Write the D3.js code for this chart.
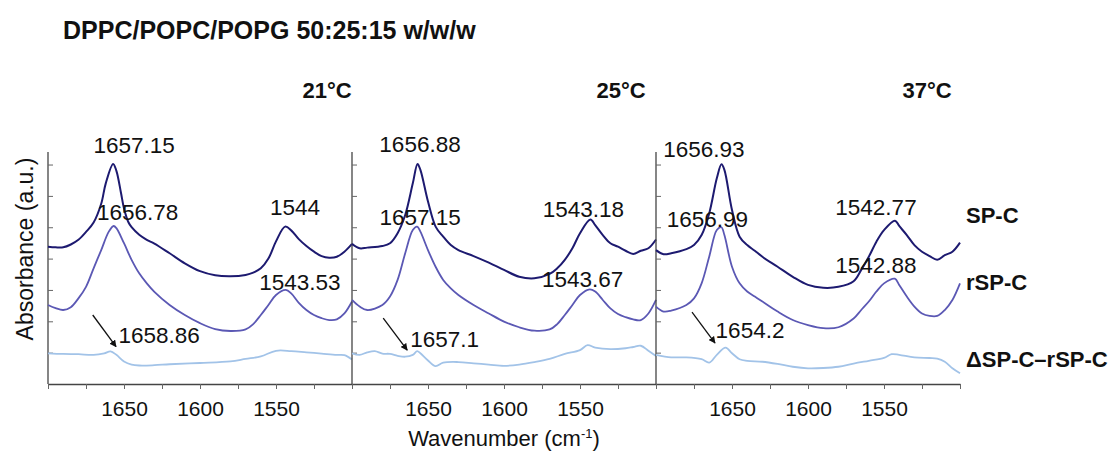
<!DOCTYPE html>
<html>
<head>
<meta charset="utf-8">
<script src="https://cdn.jsdelivr.net/npm/d3@7/dist/d3.min.js"></script>
<style>
  html, body { margin: 0; padding: 0; background: #ffffff; }
  svg { display: block; font-family: "Liberation Sans", Arial, sans-serif; }
</style>
</head>
<body>
<svg id="chart" width="1120" height="456"></svg>
<script>
// ---- data -------------------------------------------------------------
const title = "DPPC/POPC/POPG 50:25:15 w/w/w";
const temperatures = ["21°C", "25°C", "37°C"];
const seriesNames = ["SP-C", "rSP-C", "ΔSP-C–rSP-C"];
const xTicks = [1700, 1675, 1650, 1625, 1600, 1575, 1550, 1525, 1500];
const xTickLabels = [1650, 1600, 1550];
const yTicks = [1, 2, 3, 4, 5, 6, 7];

// [wavenumber (cm-1), absorbance (a.u., offset)]
const spc21 = [[1700,4.38],[1695,4.36],[1690,4.36],[1685,4.45],[1680,4.60],[1675,4.85],[1670,5.15],[1665,5.75],[1662,6.40],[1657.15,7.02],[1655,6.80],[1652,6.10],[1650,5.60],[1647,5.15],[1645,5.00],[1640,4.76],[1635,4.60],[1630,4.48],[1620,4.17],[1610,3.85],[1600,3.60],[1590,3.47],[1580,3.44],[1570,3.48],[1565,3.55],[1560,3.69],[1555,4.00],[1550,4.55],[1544,5.02],[1540,4.90],[1535,4.62],[1530,4.40],[1525,4.22],[1520,4.08],[1515,4.03],[1510,4.06],[1505,4.22],[1500,4.47]];
const rspc21 = [[1700,2.52],[1695,2.42],[1690,2.36],[1685,2.45],[1680,2.73],[1675,3.10],[1670,3.69],[1665,4.27],[1660,4.86],[1656.78,5.04],[1655,4.97],[1650,4.49],[1645,3.96],[1640,3.53],[1635,3.21],[1630,2.94],[1620,2.52],[1610,2.20],[1600,1.94],[1590,1.75],[1580,1.69],[1570,1.74],[1565,1.91],[1560,2.20],[1555,2.52],[1550,2.84],[1543.53,3.00],[1540,2.89],[1535,2.59],[1530,2.36],[1525,2.20],[1520,2.10],[1515,2.04],[1510,2.06],[1505,2.25],[1500,2.63]];
const dspc21 = [[1700,0.98],[1690,0.96],[1680,0.95],[1670,0.93],[1663,0.98],[1658.86,1.04],[1655,0.93],[1650,0.72],[1645,0.62],[1640,0.59],[1630,0.60],[1620,0.63],[1600,0.67],[1580,0.72],[1570,0.80],[1560,0.88],[1550,1.06],[1540,1.05],[1530,1.01],[1520,0.97],[1510,0.93],[1505,0.92],[1500,0.78]];

const spc25 = [[1700,4.47],[1695,4.33],[1690,4.35],[1680,4.40],[1675,4.49],[1670,4.81],[1665,5.39],[1660,6.40],[1656.88,7.02],[1655,6.83],[1650,5.82],[1645,5.02],[1640,4.70],[1635,4.43],[1630,4.27],[1620,4.08],[1610,3.87],[1600,3.64],[1590,3.42],[1580,3.37],[1570,3.51],[1565,3.69],[1560,3.96],[1555,4.33],[1550,4.81],[1543.18,5.25],[1540,5.07],[1535,4.75],[1530,4.49],[1525,4.38],[1520,4.25],[1515,4.15],[1510,4.25],[1505,4.33],[1500,4.61]];
const rspc25 = [[1700,2.68],[1695,2.47],[1690,2.36],[1680,2.52],[1675,2.79],[1670,3.32],[1665,4.17],[1660,4.91],[1657.15,5.02],[1655,4.86],[1650,4.27],[1645,3.74],[1640,3.32],[1635,3.05],[1630,2.84],[1620,2.52],[1610,2.25],[1600,1.99],[1590,1.81],[1580,1.70],[1570,1.74],[1565,1.91],[1560,2.20],[1555,2.52],[1550,2.84],[1543.67,3.02],[1540,2.95],[1535,2.68],[1530,2.41],[1525,2.23],[1520,2.13],[1515,2.06],[1510,2.04],[1505,2.25],[1500,2.68]];
const dspc25 = [[1700,0.98],[1695,0.93],[1690,1.01],[1685,1.05],[1680,0.97],[1675,0.96],[1670,0.90],[1665,0.87],[1660,0.93],[1657.1,1.05],[1655,0.98],[1650,0.75],[1645,0.57],[1640,0.68],[1630,0.70],[1620,0.66],[1610,0.62],[1600,0.58],[1590,0.62],[1580,0.70],[1570,0.80],[1560,0.96],[1550,1.08],[1545,1.24],[1540,1.16],[1530,1.11],[1520,1.14],[1515,1.18],[1510,1.22],[1505,1.06],[1500,0.89]];

const spc37 = [[1700,4.27],[1695,4.14],[1690,4.17],[1680,4.30],[1675,4.43],[1670,4.75],[1665,5.44],[1660,6.56],[1656.93,7.01],[1655,6.83],[1650,5.55],[1645,4.70],[1640,4.43],[1635,4.25],[1630,4.06],[1620,3.74],[1610,3.42],[1600,3.16],[1590,3.07],[1580,3.10],[1570,3.28],[1565,3.64],[1560,4.06],[1555,4.54],[1550,4.91],[1542.77,5.21],[1540,5.04],[1535,4.75],[1530,4.43],[1525,4.22],[1520,4.08],[1515,3.96],[1510,4.11],[1505,4.22],[1500,4.51]];
const rspc37 = [[1700,2.47],[1695,2.31],[1690,2.34],[1680,2.52],[1675,2.73],[1670,3.21],[1665,4.06],[1660,4.91],[1656.99,5.00],[1655,4.75],[1650,3.74],[1645,3.21],[1640,2.95],[1635,2.79],[1630,2.63],[1620,2.31],[1610,2.04],[1600,1.88],[1590,1.78],[1580,1.81],[1570,2.09],[1565,2.36],[1560,2.63],[1555,2.95],[1550,3.21],[1542.88,3.36],[1540,3.16],[1535,2.79],[1530,2.47],[1525,2.25],[1520,2.17],[1515,2.17],[1510,2.36],[1505,2.68],[1500,3.21]];
const dspc37 = [[1700,0.93],[1690,0.85],[1680,0.85],[1670,0.79],[1665,0.68],[1660,0.93],[1654.2,1.16],[1650,0.98],[1645,0.79],[1640,0.74],[1630,0.71],[1620,0.64],[1610,0.55],[1600,0.50],[1590,0.51],[1580,0.55],[1570,0.65],[1560,0.74],[1550,0.83],[1545,0.95],[1540,0.93],[1530,0.85],[1520,0.83],[1515,0.81],[1510,0.71],[1505,0.50],[1500,0.34]];

// band maxima: SP-C amide I, rSP-C amide I, SP-C amide II, rSP-C amide II, difference
const peaks21 = [1657.15, 1656.78, 1544, 1543.53, 1658.86];
const peaks25 = [1656.88, 1657.15, 1543.18, 1543.67, 1657.1];
const peaks37 = [1656.93, 1656.99, 1542.77, 1542.88, 1654.2];
const peakSeries = [0, 1, 0, 1, 2];

// ---- layout -------------------------------------------------------------
const panelLeft = [48, 352, 656];
const panelWidth = 304;
const plotTop = 152, plotBottom = 384;
const colors = ["#1d1a70", "#5b58b4", "#a2c3e8"];
const strokeW = [2, 1.8, 1.8];
const tempX = [327, 621, 927];
const legendY = [223, 290, 367];
// label offsets from each maximum [dx, dy, anchor]
const labelOffsets = [
  [[21,-11,"middle"],[24,-6,"middle"],[10,-12,"middle"],[14,0,"middle"],[8,-8,"start"]],
  [[2.5,-12,"middle"],[3,-2,"middle"],[-7,-2,"middle"],[-7,-2,"middle"],[-7,-4,"start"]],
  [[-17.5,-7,"middle"],[-14,0,"middle"],[-19,-6,"middle"],[-19,-6,"middle"],[-10,-10,"start"]]
];
const arrowOffsets = [[-17.8,-36.4,5.5,-4.7],[-34,-33,-10,-1],[-33.6,-35.6,-10.6,-4.6]];

const panels = [
  {temp: temperatures[0], series: [spc21, rspc21, dspc21], peaks: peaks21},
  {temp: temperatures[1], series: [spc25, rspc25, dspc25], peaks: peaks25},
  {temp: temperatures[2], series: [spc37, rspc37, dspc37], peaks: peaks37}
];

const svg = d3.select("#chart");
const y = d3.scaleLinear().domain([0, 7.4]).range([plotBottom, plotTop]);

svg.append("defs").append("marker")
  .attr("id", "arrowhead")
  .attr("viewBox", "0 0 10 10")
  .attr("refX", 9).attr("refY", 5)
  .attr("markerWidth", 7).attr("markerHeight", 7)
  .attr("markerUnits", "userSpaceOnUse")
  .attr("orient", "auto")
  .append("path").attr("d", "M0,0 L10,5 L0,10 z").attr("fill", "#111");

// title
svg.append("text")
  .attr("x", 63).attr("y", 39)
  .attr("font-size", 25).attr("font-weight", "bold").attr("fill", "#111")
  .text(title);

panels.forEach((p, i) => {
  const x = d3.scaleLinear().domain([1700, 1500]).range([panelLeft[i], panelLeft[i] + panelWidth]);
  const g = svg.append("g");

  // temperature header
  g.append("text")
    .attr("x", tempX[i]).attr("y", 98)
    .attr("text-anchor", "middle")
    .attr("font-size", 22).attr("font-weight", "bold").attr("fill", "#111")
    .text(p.temp);

  // axes
  const xAxis = d3.axisBottom(x).tickValues(xTicks).tickSize(5).tickSizeOuter(0)
    .tickFormat(d => xTickLabels.includes(d) ? d : "");
  const gx = g.append("g").attr("transform", `translate(0,${plotBottom})`).call(xAxis);
  gx.select(".domain").attr("stroke", "#444").attr("stroke-width", 1.3);
  gx.selectAll(".tick line").attr("stroke", "#666");
  gx.selectAll(".tick text").attr("font-size", 21).attr("font-family", "Liberation Sans, Arial, sans-serif")
    .attr("fill", "#111").attr("dy", "1.15em");

  const yAxis = d3.axisRight(y).tickValues(yTicks).tickSize(5).tickSizeOuter(0).tickFormat("");
  const gy = g.append("g").attr("transform", `translate(${panelLeft[i]},0)`).call(yAxis);
  gy.select(".domain").attr("stroke", "#444").attr("stroke-width", 1.3)
    .attr("d", `M0,${plotTop}V${plotBottom}`);
  gy.selectAll(".tick line").attr("stroke", "#666");

  // spectra
  const line = d3.line().x(d => x(d[0])).y(d => y(d[1])).curve(d3.curveCatmullRom.alpha(0.5));
  p.series.forEach((s, k) => {
    g.append("path").datum(s)
      .attr("fill", "none").attr("stroke", colors[k]).attr("stroke-width", strokeW[k])
      .attr("stroke-linejoin", "round")
      .attr("d", line);
  });

  // maxima labels
  p.peaks.forEach((w, j) => {
    const s = p.series[peakSeries[j]];
    const pt = s.find(d => d[0] === w);
    const px = x(pt[0]), py = y(pt[1]);
    const off = labelOffsets[i][j];
    g.append("text")
      .attr("x", px + off[0]).attr("y", py + off[1])
      .attr("text-anchor", off[2])
      .attr("font-size", 22.5).attr("fill", "#111")
      .text(String(w));
    if (peakSeries[j] === 2) {
      const a = arrowOffsets[i];
      g.append("line")
        .attr("x1", px + a[0]).attr("y1", py + a[1])
        .attr("x2", px + a[2]).attr("y2", py + a[3])
        .attr("stroke", "#111").attr("stroke-width", 1.3)
        .attr("marker-end", "url(#arrowhead)");
    }
  });
});

// series names at the right
seriesNames.forEach((n, k) => {
  svg.append("text")
    .attr("x", 966).attr("y", legendY[k])
    .attr("font-size", 22).attr("font-weight", "bold").attr("fill", "#111")
    .text(n);
});

// axis titles
svg.append("text")
  .attr("transform", "translate(33,249) rotate(-90)")
  .attr("text-anchor", "middle")
  .attr("font-size", 23).attr("fill", "#111")
  .text("Absorbance (a.u.)");

const xt = svg.append("text")
  .attr("x", 504).attr("y", 446)
  .attr("text-anchor", "middle")
  .attr("font-size", 22).attr("fill", "#111");
xt.append("tspan").text("Wavenumber (cm");
xt.append("tspan").attr("font-size", 13).attr("dy", -8).text("-1");
xt.append("tspan").attr("dy", 8).text(")");
</script>
</body>
</html>
